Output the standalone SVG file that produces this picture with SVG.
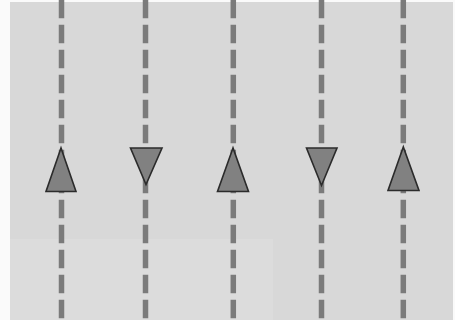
<svg xmlns="http://www.w3.org/2000/svg" width="455" height="320" viewBox="0 0 455 320">
<style>
.lane{stroke:#7b7b7b;stroke-width:5.5;stroke-dasharray:18.5 6.5;fill:none}
.arr{fill:#818181;stroke:#2b2b2b;stroke-width:1.6;stroke-linejoin:miter}
</style>
<rect x="0" y="0" width="455" height="320" fill="#fafafa"/>
<rect x="10" y="2" width="443" height="318" fill="#d8d8d8"/>
<rect x="10" y="239" width="263" height="81" fill="#dcdcdc"/>
<g id="connectors">
<line class="lane" x1="61.5" y1="-0.3" x2="61.5" y2="320"/>
<line class="lane" x1="145.5" y1="-0.3" x2="145.5" y2="320"/>
<line class="lane" x1="233.3" y1="-0.3" x2="233.3" y2="320"/>
<line class="lane" x1="321.5" y1="-0.3" x2="321.5" y2="320"/>
<line class="lane" x1="403.3" y1="-0.3" x2="403.3" y2="320"/>
</g>
<g id="arrow1"><polygon class="arr" points="61,148 46,191.5 76,191.5"/></g>
<g id="arrow2"><polygon class="arr" points="130.5,148 162,148 146,184.5"/></g>
<g id="arrow3"><polygon class="arr" points="233,148 217.5,191.5 248.5,191.5"/></g>
<g id="arrow4"><polygon class="arr" points="306.5,148 337,148 321.5,185.5"/></g>
<g id="arrow5"><polygon class="arr" points="403.3,147 388,190.5 419,190.5"/></g>
</svg>
